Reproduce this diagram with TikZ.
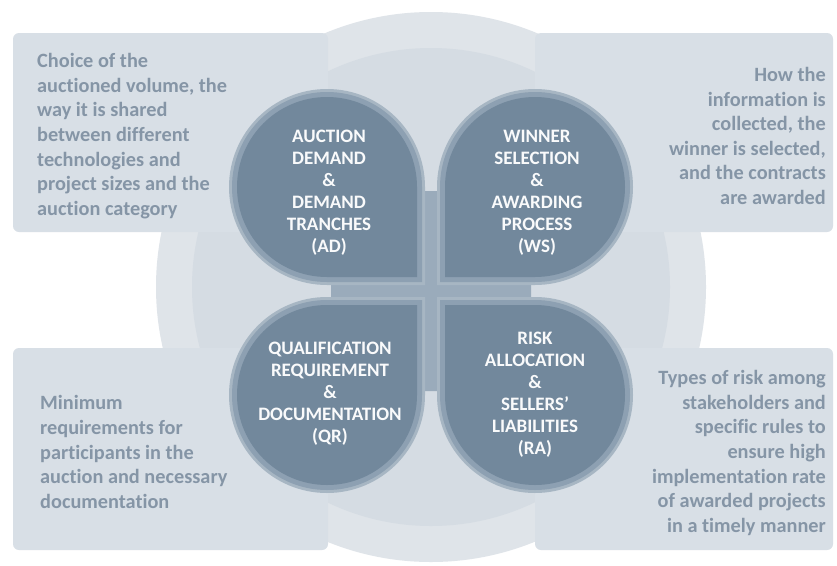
\documentclass[tikz,border=0pt]{standalone}
\usepackage{fontspec}
\setmainfont{Carlito}[Ligatures={TeX,NoCommon}]
\definecolor{diskouter}{HTML}{DFE4E9}
\definecolor{diskinner}{HTML}{D5DCE3}
\definecolor{panelfill}{HTML}{D8DFE6}
\definecolor{hubfill}{HTML}{9AABBB}
\definecolor{petaledge}{HTML}{A7B6C3}
\definecolor{petalrim}{HTML}{8DA0B2}
\definecolor{petalfill}{HTML}{72889C}
\definecolor{notecolor}{HTML}{8595A6}
% one layer of a petal: a circle with one square corner at the local origin,
% inset by #2 from the outline of size 196
\newcommand{\petallayer}[2]{%
  \fill[#1] (#2,#2) -- (98,#2)
    arc[start angle=-90,end angle=90,radius={98-#2}]
    arc[start angle=90,end angle=180,radius={98-#2}] -- cycle;}
\newcommand{\petalbody}{%
  \petallayer{petaledge}{0}%
  \petallayer{petalrim}{3}%
  \petallayer{petalfill}{8}}
\begin{document}
\begin{tikzpicture}[x=1pt,y=-1pt,
  petaltext/.style={text=white!96!petalfill,align=center,inner sep=0pt,
    font=\bfseries\fontsize{19}{22}\selectfont},
  notetext/.style={text=notecolor,inner sep=0pt,
    font=\bfseries\fontsize{20.3}{24.6}\selectfont},
  notepanel/.style={fill=panelfill,rounded corners=6pt}]
\useasboundingbox (0,0) rectangle (837,565);
\fill[white] (0,0) rectangle (837,565);

% background discs
\fill[diskouter] (431,287) circle[radius=275];
\fill[diskinner] (431,287) circle[radius=239];

% corner panels
\fill[notepanel] (13,33) rectangle (328,232);
\fill[notepanel] (535,33) rectangle (833,232);
\fill[notepanel] (13,348) rectangle (328,550);
\fill[notepanel] (535,348) rectangle (833,550);

% central hub behind the petals
\fill[hubfill, rounded corners=6pt] (331,191) rectangle (531,391);

% the four petals, square corner towards the centre
\begin{scope}[shift={(425,285)},xscale=-1,yscale=-1]\petalbody\end{scope}
\begin{scope}[shift={(437,285)},xscale=1,yscale=-1]\petalbody\end{scope}
\begin{scope}[shift={(425,297)},xscale=-1,yscale=1]\petalbody\end{scope}
\begin{scope}[shift={(437,297)},xscale=1,yscale=1]\petalbody\end{scope}

% petal labels
\node[petaltext] (ad) at (329,193) {AUCTION\\DEMAND\\\&\\DEMAND\\TRANCHES\\(AD)};
\node[petaltext] (ws) at (537,193) {WINNER\\SELECTION\\\&\\AWARDING\\PROCESS\\(WS)};
\node[petaltext] (qr) at (330,394) {QUALIFICATION\\REQUIREMENT\\\&\\DOCUMENTATION\\(QR)};
\node[petaltext] (ra) at (535,395) {RISK\\ALLOCATION\\\&\\SELLERS’\\LIABILITIES\\(RA)};

% panel descriptions
\node[notetext,anchor=west,align=left] (adnote) at (37,136)
  {Choice of the\\auctioned volume, the\\way it is shared\\between different\\technologies and\\project sizes and the\\auction category};
\node[notetext,anchor=east,align=right] (wsnote) at (826,136)
  {How the\\information is\\collected, the\\winner is selected,\\and the contracts\\are awarded};
\node[notetext,anchor=west,align=left] (qrnote) at (40,452)
  {Minimum\\requirements for\\participants in the\\auction and necessary\\documentation};
\node[notetext,anchor=east,align=right] (ranote) at (826,453)
  {Types of risk among\\stakeholders and\\specific rules to\\ensure high\\implementation rate\\of awarded projects\\in a timely manner};
\end{tikzpicture}
\end{document}
